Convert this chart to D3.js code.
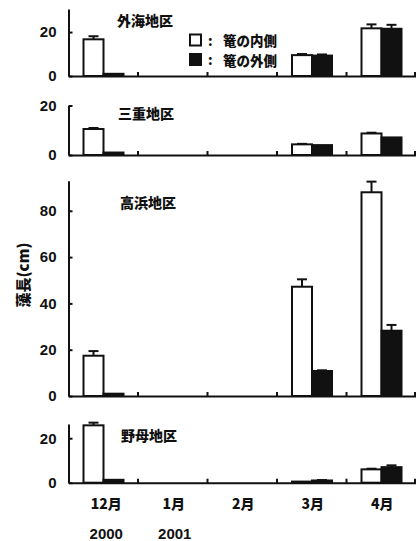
<!DOCTYPE html>
<html><head><meta charset="utf-8">
<script src="https://cdn.jsdelivr.net/npm/d3@7"></script>
<style>
html,body{margin:0;padding:0;background:#fff;}
svg{display:block;}
.num{font-family:"Liberation Sans",Arial,sans-serif;font-weight:bold;font-size:15px;fill:#111;}
.jp{font-family:"Noto Sans CJK JP",sans-serif;font-weight:900;fill:#111;}
</style></head>
<body>
<svg id="c" width="416" height="541"></svg>
<script>
// ---- data ----
const months = ["12月", "1月", "2月", "3月", "4月"];
const years = ["2000", "2001"];
const regions = ["外海地区", "三重地区", "高浜地区", "野母地区"];
const seriesNames = ["篭の内側", "篭の外側"];
// bar heights (cm); null = no data
const insideValues = [
  [16.7, null, null, 9.5, 21.7],
  [10.5, null, null, 4.3, 8.7],
  [17.4, null, null, 47.2, 88.0],
  [25.8, null, null, 0.5, 6.0]
];
const insideErrors = [
  [1.4, null, null, 0.5, 1.8],
  [0.4, null, null, 0.2, 0.3],
  [2.0, null, null, 3.2, 4.6],
  [1.2, null, null, 0, 0.3]
];
const outsideValues = [
  [1.0, null, null, 9.3, 21.5],
  [1.0, null, null, 4.0, 7.1],
  [1.0, null, null, 10.8, 28.2],
  [1.3, null, null, 1.0, 7.0]
];
const outsideErrors = [
  [0, null, null, 0.5, 1.8],
  [0, null, null, 0, 0],
  [0, null, null, 0.3, 2.5],
  [0, null, null, 0.2, 0.8]
];
const tickValues = [
  [0, 20],
  [0, 20],
  [0, 20, 40, 60, 80],
  [0, 20]
];

// ---- layout ----
const panels = [
  {zero: 76, top: 9, max: 30.5},
  {zero: 155, top: 105.5, max: 20},
  {zero: 396, top: 180.7, max: 93},
  {zero: 482.7, top: 424, max: 26.4}
];
const titlePos = [[117, 20], [118, 113], [120, 202], [121, 435]];
const axisX = 68.5, rightX = 416;

const svg = d3.select("#c");
const x = d3.scaleBand().domain(months).range([axisX, rightX]).paddingInner(0).paddingOuter(0);
const xs = d3.scaleBand().domain(seriesNames).range([15, 55]).padding(0);

panels.forEach((p, i) => {
  const y = d3.scaleLinear().domain([0, p.max]).range([p.zero, p.top]);
  const g = svg.append("g");

  const rows = [
    {name: seriesNames[0], vals: insideValues[i], errs: insideErrors[i], fill: "#fff"},
    {name: seriesNames[1], vals: outsideValues[i], errs: outsideErrors[i], fill: "#111"}
  ];
  rows.forEach(r => {
    const data = months.map((m, j) => ({m, v: r.vals[j], e: r.errs[j]})).filter(d => d.v != null);
    const cx = d => x(d.m) + xs(r.name) + xs.bandwidth() / 2;
    const eb = data.filter(d => d.e > 0);
    g.selectAll(null).data(eb).enter().append("line")
      .attr("x1", cx).attr("x2", cx)
      .attr("y1", d => y(d.v)).attr("y2", d => y(d.v + d.e))
      .attr("stroke", "#111").attr("stroke-width", 2);
    g.selectAll(null).data(eb).enter().append("line")
      .attr("x1", d => cx(d) - 5).attr("x2", d => cx(d) + 5)
      .attr("y1", d => y(d.v + d.e)).attr("y2", d => y(d.v + d.e))
      .attr("stroke", "#111").attr("stroke-width", 2);
    g.selectAll(null).data(data).enter().append("rect")
      .attr("x", d => x(d.m) + xs(r.name))
      .attr("width", xs.bandwidth())
      .attr("y", d => y(d.v))
      .attr("height", d => y(0) - y(d.v))
      .attr("fill", r.fill).attr("stroke", "#111").attr("stroke-width", 2);
  });

  // y axis
  const ya = d3.axisLeft(y).tickValues(tickValues[i]).tickSizeInner(-4).tickSizeOuter(0).tickPadding(12);
  const yg = g.append("g").attr("transform", `translate(${axisX},0)`).call(ya);
  yg.select(".domain").attr("stroke", "#111").attr("stroke-width", 2);
  yg.selectAll(".tick line").attr("stroke", "#111").attr("stroke-width", 2);
  yg.selectAll(".tick text").attr("class", "num").attr("font-size", null).attr("font-family", null);

  // x baseline + boundary ticks
  const xa = d3.axisBottom(x).tickValues([]).tickSizeOuter(0);
  const xg = g.append("g").attr("transform", `translate(0,${p.zero})`).call(xa);
  xg.select(".domain").attr("stroke", "#111").attr("stroke-width", 2);
  g.selectAll(null).data(months.slice(1).concat([null])).enter().append("line")
    .attr("x1", d => d ? x(d) : rightX - 1).attr("x2", d => d ? x(d) : rightX - 1)
    .attr("y1", p.zero - 4).attr("y2", p.zero + 1)
    .attr("stroke", "#111").attr("stroke-width", 2);

  // title
  g.append("text").attr("class", "jp").attr("x", titlePos[i][0]).attr("y", titlePos[i][1])
    .attr("dominant-baseline", "central").attr("font-size", 14).text(regions[i]);

  if (i === panels.length - 1) {
    g.selectAll(null).data(months).enter().append("text")
      .attr("class", "jp").attr("font-size", 14)
      .attr("x", d => x(d) + x.bandwidth() / 2 + (d === "12月" ? 3 : 1))
      .attr("y", 503).attr("text-anchor", "middle").attr("dominant-baseline", "central")
      .text(d => d);
    g.selectAll(null).data(years).enter().append("text")
      .attr("class", "num").attr("font-size", 14)
      .attr("x", (d, k) => x(months[k]) + x.bandwidth() / 2 + (k === 0 ? 3 : 2))
      .attr("y", 533).attr("text-anchor", "middle").attr("dominant-baseline", "central")
      .text(d => d);
  }
});

// legend
const leg = svg.append("g");
seriesNames.forEach((s, k) => {
  const cy = 40 + k * 19.5;
  leg.append("rect").attr("x", 190).attr("y", cy - 5.5).attr("width", 11).attr("height", 11)
    .attr("fill", k === 0 ? "#fff" : "#111").attr("stroke", "#111").attr("stroke-width", 2);
  leg.append("text").attr("class", "jp").attr("font-size", 13).attr("x", 208).attr("y", cy)
    .attr("dominant-baseline", "central").text(":");
  leg.append("text").attr("class", "jp").attr("font-size", 13.5).attr("x", 223).attr("y", cy)
    .attr("dominant-baseline", "central").text(s);
});

// y axis title
svg.append("text").attr("class", "jp").attr("font-size", 15)
  .attr("transform", "translate(22,275) rotate(-90)")
  .attr("text-anchor", "middle").attr("dominant-baseline", "central")
  .text("藻長(cm)");
</script>
</body></html>
